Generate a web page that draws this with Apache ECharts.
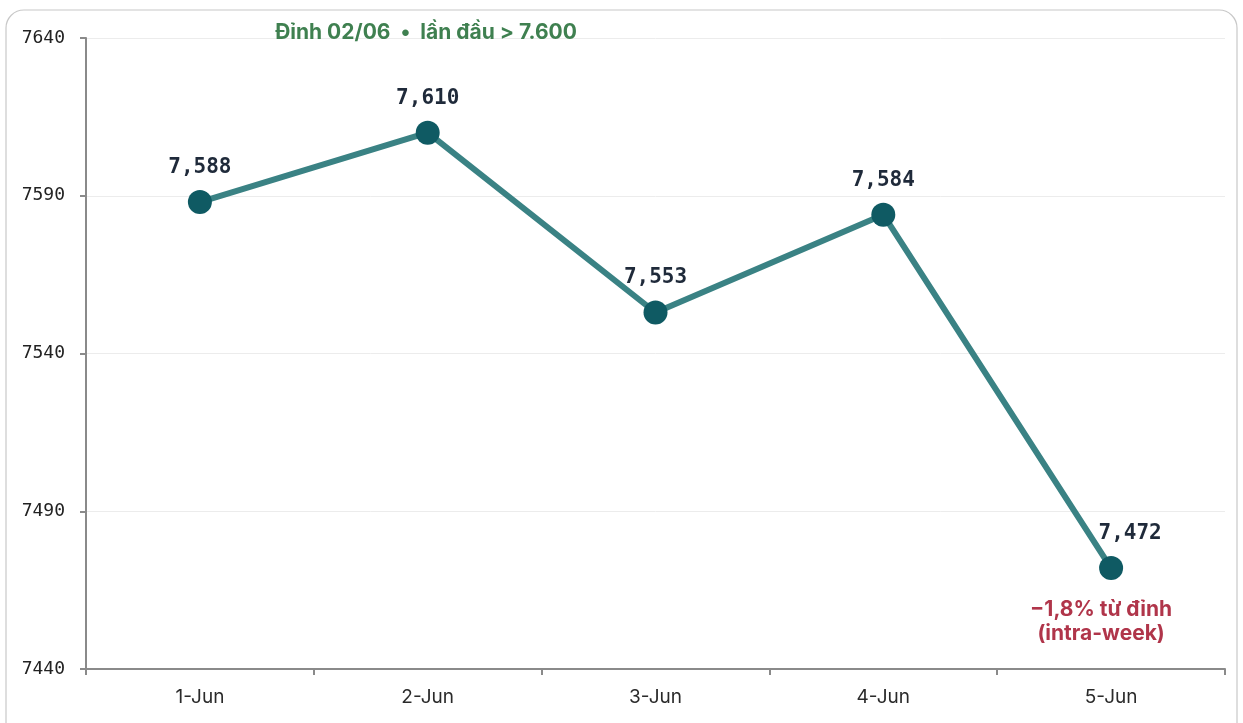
<!DOCTYPE html>
<html>
<head>
<meta charset="utf-8">
<script src="https://cdn.jsdelivr.net/npm/echarts@6/dist/echarts.min.js"></script>
<style>
html,body{margin:0;padding:0;background:#fff;}
#chart{width:1243px;height:723px;}
</style>
</head>
<body>
<div id="chart"></div>
<script>
const categories = ['1-Jun', '2-Jun', '3-Jun', '4-Jun', '5-Jun'];
const values = [7588, 7610, 7553, 7584, 7472];
const yTicks = [7440, 7490, 7540, 7590, 7640];
const topNote = 'Đỉnh 02/06  •  lần đầu > 7.600';
const bottomNote = '−1,8% từ đỉnh\n(intra-week)';

const sansFont = 'Inter, "Open Sans", "Noto Sans", sans-serif';
const chart = echarts.init(document.getElementById('chart'));
chart.setOption({
  animation: false,
  backgroundColor: '#fff',
  grid: { left: 86, right: 18, top: 38, bottom: 54 },
  graphic: [
    { type: 'rect', z: -10, shape: { x: 6, y: 10, width: 1231, height: 740, r: 18 },
      style: { fill: 'none', stroke: '#c8c8c8', lineWidth: 1.2 } },
    { type: 'text', x: 426, y: 33, z: 10,
      style: { text: topNote, fill: '#3f8050', font: 'bold 21px ' + sansFont,
               textAlign: 'center', textVerticalAlign: 'middle' } }
  ],
  xAxis: {
    type: 'category',
    data: categories,
    boundaryGap: true,
    axisLine: { lineStyle: { color: '#8a8a8a', width: 2 } },
    axisTick: { show: true, length: 6, lineStyle: { color: '#8a8a8a', width: 2 } },
    axisLabel: { color: '#2a2a2a', fontSize: 19, margin: 19, fontFamily: sansFont },
    splitLine: { show: false }
  },
  yAxis: {
    type: 'value',
    min: yTicks[0],
    max: yTicks[yTicks.length - 1],
    interval: 50,
    axisLine: { show: true, lineStyle: { color: '#8a8a8a', width: 2 } },
    axisTick: { show: true, length: 6, lineStyle: { color: '#8a8a8a', width: 2 } },
    axisLabel: { color: '#222', fontSize: 18, margin: 21, fontFamily: '"DejaVu Sans Mono", monospace',
                 formatter: v => String(v) },
    splitLine: { show: true, lineStyle: { color: '#ececec', width: 1 } }
  },
  series: [{
    type: 'line',
    data: values.map((v, i) => i === values.length - 1
      ? { value: v, label: { offset: [19, 0] } }
      : v),
    symbol: 'circle',
    symbolSize: 24,
    lineStyle: { color: '#3a8284', width: 6 },
    itemStyle: { color: '#0f5a63' },
    label: {
      show: true, position: 'top', distance: 12,
      color: '#1f2a3a', fontSize: 21, fontWeight: 'bold',
      fontFamily: '"DejaVu Sans Mono", monospace',
      formatter: p => p.value.toLocaleString('en-US')
    },
    markPoint: {
      symbol: 'circle', symbolSize: 0,
      data: [{ coord: [categories[4], values[4]] }],
      label: {
        show: true, position: 'bottom', distance: 30, offset: [-10, 0],
        formatter: bottomNote, color: '#b0354a', fontSize: 21, fontWeight: 'bold',
        lineHeight: 24, align: 'center',
        fontFamily: sansFont
      }
    }
  }]
});
</script>
</body>
</html>
